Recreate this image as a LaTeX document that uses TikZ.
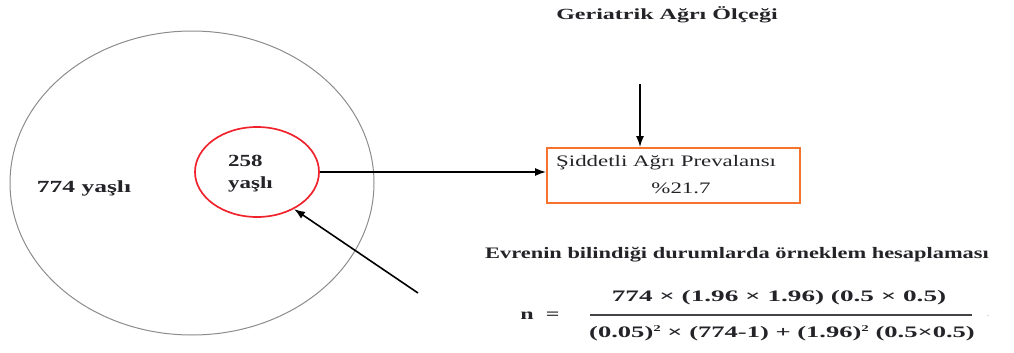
\documentclass[tikz,border=0pt]{standalone}
\usepackage{fontspec}
\setmainfont{Liberation Serif}
\usetikzlibrary{arrows.meta,shapes.geometric}
\definecolor{boxorange}{RGB}{245,115,45}
\definecolor{ringred}{RGB}{240,35,45}
\definecolor{ink}{RGB}{35,35,40}
\newcommand{\wide}[2][1.5]{\scalebox{#1}[1]{#2}}
\newcommand{\sqr}{\raisebox{6pt}{\fontsize{9}{9}\selectfont 2}}
\begin{document}
\begin{tikzpicture}[x=1pt,y=-1pt,
  txt/.style={inner sep=0pt, text=ink},
  arr/.style={-{Latex[length=11pt,width=8pt]}, line width=1.6pt, draw=black},
  ]
\useasboundingbox (0,0) rectangle (1014,353);
% population ellipses
\node[draw=gray!90, ellipse, minimum width=364pt, minimum height=304pt, line width=1pt, inner sep=0pt] (outer) at (192,183) {};
\node[draw=ringred, ellipse, minimum width=124pt, minimum height=90pt, line width=1.7pt, inner sep=0pt] (inner) at (257,172) {};
\node[txt, font=\bfseries\fontsize{17}{17}\selectfont] (l774) at (84,188) {\wide{774 yaşlı}};
\node[txt, font=\bfseries\fontsize{17}{22}\selectfont, align=left, anchor=west] (l258) at (228,174) {\wide[1.35]{258}\\\wide[1.35]{yaşlı}};
% prevalence box
\node[draw=boxorange, line width=1.8pt, minimum width=253pt, minimum height=55pt, inner sep=0pt] (box) at (673.5,175.5) {};
\node[txt, font=\fontsize{16}{16}\selectfont, anchor=west] (prev) at (556,163) {\wide[1.43]{Şiddetli Ağrı Prevalansı}};
\node[txt, font=\fontsize{16}{16}\selectfont] (pct) at (681,188) {\wide[1.43]{\%21.7}};
% title
\node[txt, font=\bfseries\fontsize{15.5}{15.5}\selectfont] (title) at (667,15) {\wide[1.55]{Geriatrik Ağrı Ölçeği}};
% connectors
\coordinate (dtop) at (640,84);
\draw[arr] (dtop) -- (box.north -| dtop);
\draw[arr] (inner.east) -- (inner.east -| box.west);
\coordinate (dtail) at (418,293);
\draw[arr] (dtail) -- (inner.-45);
% sample size formula
\node[txt, font=\bfseries\fontsize{16}{16}\selectfont] (head) at (737,255) {\wide[1.4]{Evrenin bilindiği durumlarda örneklem hesaplaması}};
\node[txt, font=\bfseries\fontsize{16}{16}\selectfont] (neq) at (540,316) {\wide[1.5]{n\enspace=}};
\node[txt, font=\bfseries\fontsize{16}{16}\selectfont] (num) at (779,298) {\wide[1.7]{774 × (1.96 × 1.96) (0.5 × 0.5)}};
\node[txt, font=\bfseries\fontsize{16}{16}\selectfont] (den) at (782,333) {\wide[1.66]{(0.05)\sqr{} × (774-1) + (1.96)\sqr{} (0.5×0.5)}};
\coordinate (fl) at (590,315);
\coordinate (fr) at (972,315);
\draw[line width=1.6pt, draw=ink!85] (fl) -- (fr);
\node[txt, text=gray!60, font=\fontsize{10}{10}\selectfont] (dot) at (988,316) {.};
\end{tikzpicture}
\end{document}
